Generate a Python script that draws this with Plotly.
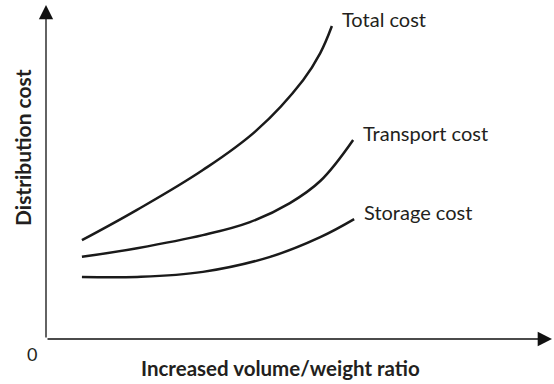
import plotly.graph_objects as go

# Data (arbitrary units, axes 0..10)
total_x = [0.71, 1.79, 3.10, 4.17, 5.08, 5.42, 5.65]
total_y = [2.96, 3.86, 5.06, 6.26, 7.75, 8.56, 9.37]
transport_x = [0.71, 1.80, 3.10, 4.03, 4.82, 5.42, 6.07]
transport_y = [2.46, 2.72, 3.11, 3.50, 4.07, 4.73, 5.96]
storage_x = [0.71, 1.80, 3.10, 4.43, 5.42, 6.09]
storage_y = [1.86, 1.86, 2.01, 2.46, 3.05, 3.59]

labels = ["Total cost", "Transport cost", "Storage cost"]
x_title = "Increased volume/weight ratio"
y_title = "Distribution cost"
origin_label = "0"

FONT = "Lato"
TXT = "#231f20"
fig = go.Figure()
for xs, ys, lab in [(total_x, total_y, labels[0]),
                    (transport_x, transport_y, labels[1]),
                    (storage_x, storage_y, labels[2])]:
    fig.add_trace(go.Scatter(x=xs, y=ys, mode="lines", name=lab,
                             line=dict(color="#1a1a1a", width=2.5, shape="spline", smoothing=1.1),
                             showlegend=False, hoverinfo="skip"))
    fig.add_annotation(x=xs[-1], y=ys[-1], text=lab, showarrow=False,
                       xanchor="left", yanchor="middle", xshift=8, yshift=7,
                       font=dict(family=FONT, size=20, color=TXT))

# axes with arrow heads
fig.add_annotation(x=0, y=10, ax=0, ay=0, xref="x", yref="y", axref="x", ayref="y",
                   showarrow=True, arrowhead=2, arrowsize=2.2, arrowwidth=1.3,
                   arrowcolor="#111", text="", standoff=0, startstandoff=0)
fig.add_annotation(x=10, y=0, ax=0, ay=0, xref="x", yref="y", axref="x", ayref="y",
                   showarrow=True, arrowhead=2, arrowsize=2.2, arrowwidth=1.3,
                   arrowcolor="#111", text="", standoff=0, startstandoff=0)
fig.add_annotation(x=0, y=0, text=origin_label, showarrow=False, xanchor="center", yanchor="middle",
                   xshift=-14, yshift=-15, font=dict(family=FONT, size=18, color=TXT))

# axis titles
fig.add_annotation(xref="paper", yref="paper", x=(280 - 46) / 506, y=-(368 - 339) / 334,
                   text="<b>" + x_title + "</b>", showarrow=False,
                   xanchor="center", yanchor="middle",
                   font=dict(family=FONT, size=20.5, color=TXT))
fig.add_annotation(xref="paper", yref="paper", x=-(46 - 22) / 506, y=(339 - 148) / 334,
                   text="<b>" + y_title + "</b>", showarrow=False, textangle=-90,
                   xanchor="center", yanchor="middle",
                   font=dict(family=FONT, size=21, color=TXT))

fig.update_layout(
    width=554, height=384,
    margin=dict(l=46, r=2, t=5, b=45, autoexpand=False),
    plot_bgcolor="white", paper_bgcolor="white",
    xaxis=dict(range=[0, 10], showgrid=False, zeroline=False, showticklabels=False,
               ticks="", showline=False, automargin=False),
    yaxis=dict(range=[0, 10], showgrid=False, zeroline=False, showticklabels=False,
               ticks="", showline=False, automargin=False),
)
fig.write_html("out.html", config={"displayModeBar": False, "staticPlot": True},
               post_script="document.body.style.margin='0';document.body.style.overflow='hidden';")
